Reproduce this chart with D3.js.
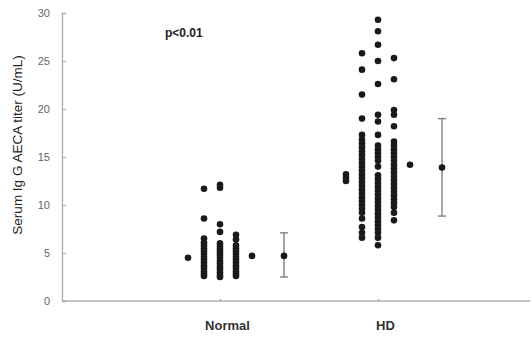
<!DOCTYPE html>
<html>
<head>
<meta charset="utf-8">
<script src="https://cdnjs.cloudflare.com/ajax/libs/d3/7.8.5/d3.min.js"></script>
<style>
  body { margin: 0; background: #fff; }
  svg { display: block; font-family: "Liberation Sans", Arial, sans-serif; }
</style>
</head>
<body>
<div id="chart"></div>
<script>
const categories = ['Normal', 'HD'];

// each group is drawn as 5 sub-columns, offsets -2..2
const normalColumns = [
  [4.5],
  [11.7, 8.6, 6.5, 6.1, 5.8, 5.5, 5.2, 4.9, 4.6, 4.3, 4.0, 3.7, 3.4, 3.1, 2.8, 2.6],
  [12.1, 11.8, 8.0, 7.2, 6.0, 5.7, 5.4, 5.1, 4.8, 4.5, 4.2, 3.9, 3.6, 3.3, 3.0, 2.7, 2.5],
  [6.9, 6.4, 5.8, 5.5, 5.2, 4.9, 4.6, 4.3, 4.0, 3.7, 3.4, 3.1, 2.8, 2.6],
  [4.7]
];
const hdColumns = [
  [13.2, 12.8, 12.5],
  [25.8, 24.1, 21.5, 19.0, 17.3, 16.8, 16.4, 16.0, 15.6, 15.2, 14.8, 14.4, 14.0, 13.6, 13.2, 12.8,
   12.4, 12.0, 11.6, 11.2, 10.8, 10.4, 10.0, 9.6, 9.2, 8.6, 7.7, 7.1, 6.6],
  [29.3, 28.1, 26.7, 25.0, 22.6, 19.4, 18.7, 17.3, 16.2, 15.8, 15.4, 15.0, 14.6, 14.0, 13.1, 12.7,
   12.3, 11.9, 11.5, 11.1, 10.7, 10.3, 9.9, 9.5, 9.1, 8.7, 8.3, 7.9, 7.5, 7.1, 6.6, 5.8],
  [25.3, 23.1, 19.9, 19.4, 18.2, 16.6, 16.2, 15.8, 15.4, 15.0, 14.6, 14.2, 13.8, 13.4, 13.0, 12.6,
   12.2, 11.8, 11.4, 11.0, 10.6, 10.2, 9.8, 9.2, 8.4],
  [14.2]
];
const means = [4.7, 13.9];
const errLow = [2.5, 8.85];
const errHigh = [7.1, 19.0];
const yTicks = [0, 5, 10, 15, 20, 25, 30];

const width = 532, height = 337;
const margin = { top: 13, right: 2, bottom: 36, left: 62 };

const svg = d3.select('#chart').append('svg')
  .attr('width', width)
  .attr('height', height);

const x = d3.scalePoint()
  .domain(categories)
  .range([margin.left, 536])
  .padding(1);

// sub-column offset within a group
const sub = d3.scaleLinear().domain([-2, 2]).range([-32, 32]);

const y = d3.scaleLinear()
  .domain([0, 30])
  .range([height - margin.bottom, margin.top]);

// y axis
const yAxis = svg.append('g')
  .attr('transform', `translate(${margin.left},0)`)
  .call(d3.axisLeft(y).tickValues(yTicks).tickSize(-4).tickPadding(12));
yAxis.select('.domain').attr('stroke', '#a8a8a8').attr('stroke-width', 1.3);
yAxis.selectAll('.tick line').attr('stroke', '#a8a8a8');
yAxis.selectAll('.tick text').attr('fill', '#666').attr('font-size', 11);

// x axis
const xAxis = svg.append('g')
  .attr('transform', `translate(0,${y(0)})`)
  .call(d3.axisBottom(x).tickSize(-2).tickPadding(20));
xAxis.select('.domain').remove();
xAxis.append('line')
  .attr('x1', margin.left).attr('x2', 530)
  .attr('stroke', '#b0b0b0').attr('stroke-width', 1.3);
xAxis.selectAll('.tick line').attr('stroke', '#888');
xAxis.selectAll('.tick text')
  .attr('dx', 7)
  .attr('fill', '#333')
  .attr('font-size', 13)
  .attr('font-weight', 'bold');

// y title
svg.append('text')
  .attr('transform', `translate(22,${(y(0) + y(30)) / 2 - 12}) rotate(-90)`)
  .attr('text-anchor', 'middle')
  .attr('font-size', 13.5)
  .attr('fill', '#222')
  .text('Serum Ig G AECA titer (U/mL)');

svg.append('text')
  .attr('x', 165).attr('y', 37)
  .attr('font-size', 12)
  .attr('font-weight', 'bold')
  .attr('fill', '#222')
  .text('p<0.01');

// dots
const groups = [normalColumns, hdColumns];
const points = [];
groups.forEach((cols, gi) => {
  cols.forEach((vals, ci) => {
    vals.forEach(v => points.push({ cat: categories[gi], off: ci - 2, v }));
  });
});

svg.append('g').selectAll('circle')
  .data(points)
  .enter().append('circle')
  .attr('cx', d => x(d.cat) + sub(d.off))
  .attr('cy', d => y(d.v))
  .attr('r', 3.3)
  .attr('fill', '#1a1a1a');

// mean +/- error bars
const bars = svg.append('g').selectAll('g')
  .data(categories)
  .enter().append('g')
  .attr('transform', c => `translate(${x(c) + sub(4)},0)`);

bars.append('line')
  .attr('y1', (c, i) => y(errLow[i]))
  .attr('y2', (c, i) => y(errHigh[i]))
  .attr('stroke', '#808080').attr('stroke-width', 1.4);
bars.append('line')
  .attr('x1', -4).attr('x2', 4)
  .attr('y1', (c, i) => y(errLow[i])).attr('y2', (c, i) => y(errLow[i]))
  .attr('stroke', '#808080').attr('stroke-width', 1.4);
bars.append('line')
  .attr('x1', -4).attr('x2', 4)
  .attr('y1', (c, i) => y(errHigh[i])).attr('y2', (c, i) => y(errHigh[i]))
  .attr('stroke', '#808080').attr('stroke-width', 1.4);
bars.append('circle')
  .attr('cy', (c, i) => y(means[i]))
  .attr('r', 3.3)
  .attr('fill', '#1a1a1a');
</script>
</body>
</html>
